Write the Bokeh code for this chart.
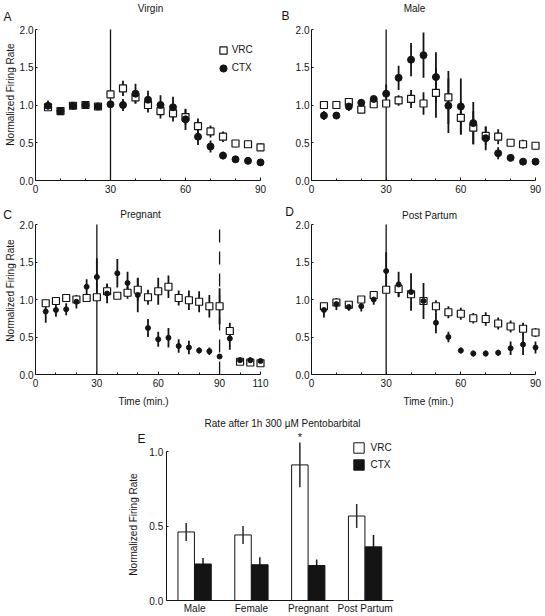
import math
from bokeh.plotting import figure
from bokeh.layouts import column, row
from bokeh.models import (ColumnDataSource, Label, Legend, LegendItem, FixedTicker,
                          NumeralTickFormatter, Range1d, LinearAxis)
from bokeh.embed import file_html
from bokeh.resources import INLINE

FONT = "Liberation Sans"
INK = "#141414"

# ---------------- data ----------------
time_90 = [5, 10, 15, 20, 25, 30, 35, 40, 45, 50, 55, 60, 65, 70, 75, 80, 85, 90]
time_110 = [5, 10, 15, 20, 25, 30, 35, 40, 45, 50, 55, 60, 65, 70, 75, 80, 85, 90, 95, 100, 105, 110]
drug_on = 30
washout_at = 90

virgin_vrc = [0.97, 0.92, 0.99, 1.00, 0.98, 1.14, 1.22, 1.10, 1.00, 0.92, 0.89, 0.84, 0.72, 0.65, 0.58, 0.49, 0.48, 0.44]
virgin_vrc_err = [0.04, 0.03, 0.03, 0.02, 0.02, 0.03, 0.10, 0.08, 0.10, 0.10, 0.11, 0.10, 0.10, 0.08, 0.07, 0.05, 0.05, 0.05]
virgin_ctx = [0.99, 0.92, 0.99, 1.00, 0.98, 1.01, 1.00, 1.15, 1.07, 1.00, 0.97, 0.81, 0.58, 0.45, 0.33, 0.28, 0.26, 0.24]
virgin_ctx_err = [0.07, 0.04, 0.04, 0.03, 0.03, 0.03, 0.08, 0.13, 0.12, 0.13, 0.14, 0.14, 0.11, 0.08, 0.05, 0.03, 0.04, 0.04]

male_vrc = [1.00, 1.00, 1.04, 0.94, 1.01, 1.02, 1.06, 1.08, 1.02, 1.16, 1.10, 0.83, 0.70, 0.59, 0.58, 0.50, 0.48, 0.46]
male_vrc_err = [0.02, 0.02, 0.02, 0.02, 0.02, 0.03, 0.07, 0.12, 0.15, 0.33, 0.35, 0.22, 0.22, 0.12, 0.10, 0.05, 0.06, 0.05]
male_ctx = [0.86, 0.86, 0.98, 1.03, 1.08, 1.15, 1.36, 1.60, 1.66, 1.37, 0.99, 0.98, 0.76, 0.56, 0.36, 0.30, 0.25, 0.25]
male_ctx_err = [0.06, 0.04, 0.06, 0.04, 0.04, 0.12, 0.16, 0.22, 0.30, 0.33, 0.36, 0.37, 0.28, 0.16, 0.08, 0.04, 0.02, 0.02]

preg_vrc = [0.95, 0.98, 1.02, 1.00, 1.02, 1.03, 1.11, 1.05, 1.09, 1.13, 1.03, 1.11, 1.17, 1.02, 0.99, 0.97, 0.91, 0.91, 0.58, 0.17, 0.16, 0.15]
preg_vrc_err = [0.05, 0.04, 0.03, 0.03, 0.02, 0.03, 0.10, 0.04, 0.08, 0.15, 0.10, 0.18, 0.15, 0.10, 0.13, 0.14, 0.15, 0.24, 0.11, 0.03, 0.03, 0.03]
preg_ctx = [0.84, 0.86, 0.87, 0.97, 1.17, 1.30, 1.08, 1.35, 1.22, 1.06, 0.62, 0.47, 0.49, 0.38, 0.36, 0.32, 0.31, 0.24, 0.48, 0.19, 0.19, 0.18]
preg_ctx_err = [0.15, 0.09, 0.08, 0.09, 0.10, 0.25, 0.13, 0.19, 0.15, 0.23, 0.12, 0.10, 0.13, 0.09, 0.09, 0.04, 0.05, 0.03, 0.15, 0.04, 0.04, 0.03]

pp_vrc = [0.91, 0.96, 0.93, 1.00, 1.06, 1.13, 1.14, 1.07, 0.98, 0.91, 0.83, 0.81, 0.75, 0.74, 0.68, 0.64, 0.61, 0.56]
pp_vrc_err = [0.05, 0.05, 0.03, 0.03, 0.04, 0.05, 0.10, 0.05, 0.05, 0.08, 0.08, 0.08, 0.07, 0.09, 0.08, 0.08, 0.08, 0.06]
pp_ctx = [0.86, 0.94, 0.90, 0.91, 1.00, 1.38, 1.20, 1.10, 0.98, 0.69, 0.50, 0.32, 0.28, 0.28, 0.29, 0.35, 0.40, 0.36]
pp_ctx_err = [0.10, 0.08, 0.05, 0.07, 0.07, 0.25, 0.17, 0.25, 0.24, 0.14, 0.07, 0.04, 0.04, 0.04, 0.04, 0.09, 0.14, 0.08]

y_ticks = [0.0, 0.5, 1.0, 1.5, 2.0]
x_ticks_90 = [0, 30, 60, 90]
x_ticks_110 = [0, 30, 60, 90, 110]

groups = ["Male", "Female", "Pregnant", "Post Partum"]
bar_vrc = [0.46, 0.44, 0.91, 0.567]
bar_vrc_err = [0.06, 0.06, 0.15, 0.08]
bar_ctx = [0.245, 0.24, 0.235, 0.36]
bar_ctx_err = [0.04, 0.05, 0.04, 0.08]
bar_y_ticks = [0.0, 0.5, 1.0]
significant = ["Pregnant"]

YL = "Normalized Firing Rate"
XL = "Time (min.)"


# ---------------- helpers ----------------
class Geo:
    """Maps a data box onto a pixel box of a figure whose frame fills the figure."""
    def __init__(self, w, h, xd, xp, yd, yp):
        self.w, self.h = w, h
        self.kx = (xp[1] - xp[0]) / (xd[1] - xd[0])
        self.ky = (yp[1] - yp[0]) / (yd[1] - yd[0])
        self.xd0, self.xp0, self.yd0, self.yp0 = xd[0], xp[0], yd[0], yp[0]

    def dx(self, px):
        return self.xd0 + (px - self.xp0) / self.kx

    def dy(self, py):
        return self.yd0 + (py - self.yp0) / self.ky

    def fig(self):
        p = figure(width=self.w, height=self.h,
                   x_range=Range1d(self.dx(0), self.dx(self.w)),
                   y_range=Range1d(self.dy(self.h), self.dy(0)),
                   x_axis_type=None, y_axis_type=None, min_border=0,
                   output_backend="svg", toolbar_location=None)
        p.outline_line_color = None
        p.background_fill_color = "white"
        p.border_fill_color = "white"
        return p


def txt(p, g, sx, sy, text, size="10px", align="center", baseline="middle", angle=0.0):
    p.add_layout(Label(x=g.dx(sx), y=g.dy(sy), text=text, text_font=FONT, text_font_size=size,
                       text_color=INK, text_align=align, text_baseline=baseline, angle=angle))


def style_axis(ax):
    ax.axis_line_color = INK
    ax.axis_line_width = 1
    ax.major_tick_line_color = INK
    ax.minor_tick_line_color = INK
    ax.major_label_text_font = FONT
    ax.major_label_text_font_size = "10px"
    ax.major_label_text_color = INK


def time_panel(g, t, vrc, vrc_err, ctx, ctx_err, x_end, x_ticks, ctx_size, washout=None):
    p = g.fig()
    y_top = y_ticks[-1]
    src = ColumnDataSource(dict(
        t=t, vrc=vrc, ctx=ctx,
        vrc_lo=[v - e for v, e in zip(vrc, vrc_err)], vrc_hi=[v + e for v, e in zip(vrc, vrc_err)],
        ctx_lo=[v - e for v, e in zip(ctx, ctx_err)], ctx_hi=[v + e for v, e in zip(ctx, ctx_err)],
    ))
    p.segment(x0=[drug_on], y0=[0], x1=[drug_on], y1=[y_top], line_color=INK, line_width=1.3)
    if washout is not None:
        p.segment(x0=[washout], y0=[0], x1=[washout], y1=[y_top], line_color=INK,
                  line_width=1.3, line_dash="13 9")
    p.segment(x0="t", y0="ctx_lo", x1="t", y1="ctx_hi", source=src, line_color=INK, line_width=1.8)
    p.segment(x0="t", y0="vrc_lo", x1="t", y1="vrc_hi", source=src, line_color=INK, line_width=1.8)
    r_vrc = p.scatter("t", "vrc", source=src, marker="square", size=7, fill_color="white",
                      line_color=INK, line_width=1.2)
    r_ctx = p.scatter("t", "ctx", source=src, marker="circle", size=ctx_size, fill_color=INK,
                      line_color=INK, line_width=1)
    minor = [m for m in range(10, x_end, 10) if m not in x_ticks]
    xa = LinearAxis(ticker=FixedTicker(ticks=x_ticks, minor_ticks=minor), bounds=(0, x_end),
                    fixed_location=0)
    style_axis(xa)
    xa.major_tick_in, xa.major_tick_out = 3, 0
    xa.minor_tick_in, xa.minor_tick_out = 2, 0
    xa.major_label_standoff = 4
    ya = LinearAxis(ticker=FixedTicker(ticks=y_ticks), formatter=NumeralTickFormatter(format="0.0"),
                    bounds=(0, y_top), fixed_location=0)
    style_axis(ya)
    ya.major_tick_in, ya.major_tick_out = 2, 0
    ya.minor_tick_line_color = None
    ya.major_label_standoff = 2
    p.add_layout(xa, "below")
    p.add_layout(ya, "left")
    return p, r_vrc, r_ctx


# ---------------- row 1 ----------------
gA = Geo(272, 200, (0, 90), (35, 260), (0, 2), (180, 29))
pA, rA_vrc, rA_ctx = time_panel(gA, time_90, virgin_vrc, virgin_vrc_err, virgin_ctx,
                                virgin_ctx_err, 90, x_ticks_90, 7)
txt(pA, gA, 150, 8, "Virgin")
txt(pA, gA, 7, 16, "A", size="12px")
txt(pA, gA, 10, 94, YL, angle=math.pi / 2)
legA = Legend(items=[LegendItem(label="VRC", renderers=[rA_vrc]),
                     LegendItem(label="CTX", renderers=[rA_ctx])],
              location=(213.7, 123.3), glyph_width=18, glyph_height=18, label_height=18,
              label_standoff=0, padding=0, spacing=0, margin=0, border_line_color=None,
              background_fill_alpha=0, label_text_font=FONT, label_text_font_size="10px",
              label_text_color=INK)
pA.add_layout(legA)

gB = Geo(273, 200, (0, 90), (39, 263), (0, 2), (180, 29))
pB, _, _ = time_panel(gB, time_90, male_vrc, male_vrc_err, male_ctx, male_ctx_err,
                      90, x_ticks_90, 7)
txt(pB, gB, 142, 8, "Male")
txt(pB, gB, 13, 15, "B", size="12px")

# ---------------- row 2 ----------------
gC = Geo(272, 212, (0, 110), (35, 260), (0, 2), (174, 24))
pC, _, _ = time_panel(gC, time_110, preg_vrc, preg_vrc_err, preg_ctx, preg_ctx_err,
                      110, x_ticks_110, 5, washout=washout_at)
txt(pC, gC, 140, 14, "Pregnant")
txt(pC, gC, 7, 14, "C", size="12px")
txt(pC, gC, 10, 90, YL, angle=math.pi / 2)
txt(pC, gC, 143, 201, XL)

gD = Geo(273, 212, (0, 90), (39, 263), (0, 2), (174, 24))
pD, _, _ = time_panel(gD, time_90, pp_vrc, pp_vrc_err, pp_ctx, pp_ctx_err, 90, x_ticks_90, 5)
txt(pD, gD, 157, 15, "Post Partum")
txt(pD, gD, 17, 11, "D", size="12px")
txt(pD, gD, 156, 201, XL)

# ---------------- bar panel E ----------------
n = len(groups)
band = (0.5, n + 0.5)
gE = Geo(545, 204, band, (165.7, 393), (0, 1), (188, 39))
pE = gE.fig()
centers = [i + 1 for i in range(n)]
shift, bw = 0.148, 0.29
srcE = ColumnDataSource(dict(
    xv=[c - shift for c in centers], xc=[c + shift for c in centers],
    vrc=bar_vrc, ctx=bar_ctx,
    vrc_lo=[v - e for v, e in zip(bar_vrc, bar_vrc_err)], vrc_hi=[v + e for v, e in zip(bar_vrc, bar_vrc_err)],
    ctx_lo=[v - e for v, e in zip(bar_ctx, bar_ctx_err)], ctx_hi=[v + e for v, e in zip(bar_ctx, bar_ctx_err)],
))
bv = pE.vbar(x="xv", top="vrc", width=bw, source=srcE, fill_color="white", line_color=INK, line_width=1)
bc = pE.vbar(x="xc", top="ctx", width=bw, source=srcE, fill_color=INK, line_color=INK, line_width=1)
pE.segment(x0="xv", y0="vrc_lo", x1="xv", y1="vrc_hi", source=srcE, line_color="#2a2a2a", line_width=1.5)
pE.segment(x0="xc", y0="ctx_lo", x1="xc", y1="ctx_hi", source=srcE, line_color=INK, line_width=1.5)

xaE = LinearAxis(ticker=FixedTicker(ticks=centers), bounds=band, fixed_location=0,
                 major_label_overrides={c: g for c, g in zip(centers, groups)})
style_axis(xaE)
xaE.major_tick_line_color = None
xaE.major_tick_in, xaE.major_tick_out = 0, 0
xaE.minor_tick_line_color = None
xaE.major_label_standoff = 2
yaE = LinearAxis(ticker=FixedTicker(ticks=bar_y_ticks), formatter=NumeralTickFormatter(format="0.0"),
                 bounds=(0, bar_y_ticks[-1]), fixed_location=band[0])
style_axis(yaE)
yaE.major_tick_in, yaE.major_tick_out = 2, 0
yaE.minor_tick_line_color = None
yaE.major_label_standoff = 3
pE.add_layout(xaE, "below")
pE.add_layout(yaE, "left")

for gname in significant:
    i = groups.index(gname)
    pE.add_layout(Label(x=centers[i] - shift, y=bar_vrc[i] + bar_vrc_err[i] + 0.035, text="*",
                        text_font=FONT, text_font_size="11px", text_color=INK,
                        text_align="center", text_baseline="alphabetic"))
txt(pE, gE, 282, 11, "Rate after 1h 300 \u00b5M Pentobarbital")
txt(pE, gE, 141, 26, "E", size="12px")
txt(pE, gE, 133, 112, YL, angle=math.pi / 2)
legE = Legend(items=[LegendItem(label="VRC", renderers=[bv]),
                     LegendItem(label="CTX", renderers=[bc])],
              location=(351.5, 145.5), glyph_width=13, glyph_height=13, label_height=13,
              label_standoff=6, padding=0, spacing=4, margin=0, border_line_color=None,
              background_fill_alpha=0, label_text_font=FONT, label_text_font_size="10px",
              label_text_color=INK)
pE.add_layout(legE)

layout = column(row(pA, pB), row(pC, pD), pE)
open("out.html", "w").write(file_html(layout, INLINE))
